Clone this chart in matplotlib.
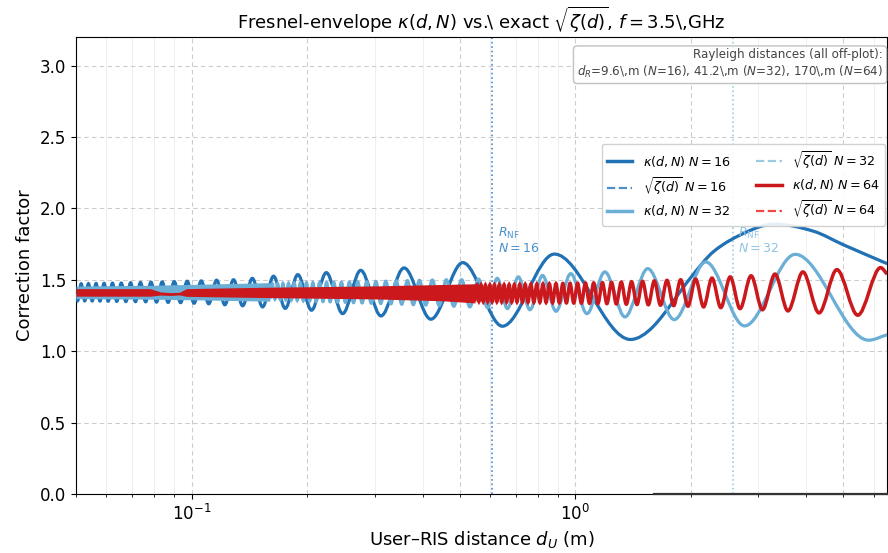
import numpy as np
import matplotlib
matplotlib.use("Agg")
import matplotlib.pyplot as plt
from matplotlib.path import Path
from matplotlib.patches import PathPatch
from matplotlib.lines import Line2D

# ---------------- data ----------------
# positions of extrema are stored as inverse distance 1/d (1/m); d = 1/inv
# N = 16, kappa(d,N)
n16_peak_inv = [0.303, 1.133, 1.963, 2.793, 3.623, 4.453, 5.283, 6.113, 6.943, 7.773,
                8.603, 9.433, 10.263, 11.093, 11.923, 12.753, 13.583, 14.413, 15.243,
                16.073, 16.903, 17.733, 18.563, 19.393]
n16_peak_y = [1.89, 1.68, 1.62, 1.583, 1.566, 1.55, 1.536, 1.525, 1.51, 1.50, 1.497,
              1.492, 1.49, 1.487, 1.485, 1.483, 1.481, 1.479, 1.477, 1.476, 1.475,
              1.474, 1.473, 1.472]
n16_trough_inv = [0.718, 1.548, 2.378, 3.208, 4.038, 4.868, 5.698, 6.528, 7.358, 8.188,
                  9.018, 9.848, 10.678, 11.508, 12.338, 13.168, 13.998, 14.828, 15.658,
                  16.488, 17.318, 18.148, 18.978, 19.808]
n16_trough_y = [1.082, 1.175, 1.224, 1.247, 1.263, 1.287, 1.30, 1.31, 1.318, 1.325,
                1.332, 1.336, 1.34, 1.342, 1.344, 1.346, 1.347, 1.348, 1.349, 1.35,
                1.351, 1.352, 1.352, 1.353]
n16_extra_d = [0.05, 1.6, 2.0, 2.3, 2.8, 4.18, 5.0, 6.5]
n16_extra_y = [1.40, 1.175, 1.515, 1.70, 1.835, 1.84, 1.745, 1.613]

# N = 32, kappa(d,N)
n32_peak_inv = [0.267, 0.457, 0.647, 0.837, 1.027, 1.217, 1.407, 1.597, 1.787, 1.977,
                2.167, 2.357, 2.547, 2.737, 2.927, 3.117, 3.307, 3.497, 3.687, 3.877,
                4.067, 4.257, 4.447, 4.637, 4.827, 5.017, 5.207, 5.397, 5.587, 5.777,
                5.967, 6.157]
n32_peak_y = [1.678, 1.625, 1.578, 1.555, 1.543, 1.53, 1.52, 1.51, 1.505, 1.50, 1.50,
              1.498, 1.496, 1.494, 1.492, 1.49, 1.488, 1.486, 1.485, 1.484, 1.483,
              1.482, 1.481, 1.48, 1.479, 1.478, 1.477, 1.476, 1.475, 1.474, 1.473, 1.472]
n32_trough_inv = [0.172, 0.362, 0.552, 0.742, 0.932, 1.122, 1.312, 1.502, 1.692, 1.882,
                  2.072, 2.262, 2.452, 2.642, 2.832, 3.022, 3.212, 3.402, 3.592, 3.782,
                  3.972, 4.162, 4.352, 4.542, 4.732, 4.922, 5.112, 5.302, 5.492, 5.682,
                  5.872, 6.062, 6.252]
n32_trough_y = [1.077, 1.177, 1.221, 1.24, 1.263, 1.28, 1.29, 1.298, 1.305, 1.31, 1.315,
                1.32, 1.323, 1.326, 1.329, 1.332, 1.334, 1.336, 1.338, 1.34, 1.342,
                1.344, 1.346, 1.348, 1.35, 1.352, 1.354, 1.356, 1.358, 1.36, 1.362,
                1.364, 1.365]
n32_extra_d = [6.5]
n32_extra_y = [1.115]
# unresolved dense band of the N = 32 curve (outer edges)
n32_band_d = [0.05, 0.08, 0.11, 0.16]
n32_band_lo = [1.368, 1.364, 1.358, 1.35]
n32_band_hi = [1.456, 1.462, 1.47, 1.48]

# N = 64, kappa(d,N)
n64_peak_inv = [0.160, 0.208, 0.255, 0.3015, 0.348, 0.3945, 0.440, 0.4855, 0.531,
                0.5765, 0.622, 0.6675, 0.713, 0.7585, 0.804, 0.8495, 0.895, 0.9405,
                0.986, 1.0315, 1.077, 1.1225, 1.168, 1.2135, 1.259, 1.3045, 1.350,
                1.3955, 1.441, 1.4865, 1.532, 1.5775, 1.623, 1.6685, 1.714, 1.7595, 1.805]
n64_peak_y = [1.585, 1.571, 1.555, 1.54, 1.528, 1.52, 1.512, 1.505, 1.50, 1.496, 1.492,
              1.489, 1.486, 1.484, 1.482, 1.48, 1.478, 1.477, 1.476, 1.475, 1.474, 1.473,
              1.472, 1.471, 1.47, 1.469, 1.468, 1.467, 1.466, 1.466, 1.465, 1.465, 1.464,
              1.464, 1.463, 1.463, 1.462]
n64_trough_inv = [0.1835, 0.2315, 0.279, 0.325, 0.3718, 0.4173, 0.4628, 0.5083, 0.5538,
                  0.5993, 0.6448, 0.6903, 0.7358, 0.7813, 0.8268, 0.8723, 0.9178, 0.9633,
                  1.0088, 1.0543, 1.0998, 1.1453, 1.1908, 1.2363, 1.2818, 1.3273, 1.3728,
                  1.4183, 1.4638, 1.5093, 1.5548, 1.6003, 1.6458, 1.6913, 1.7368, 1.7823,
                  1.8278]
n64_trough_y = [1.252, 1.268, 1.282, 1.29, 1.298, 1.305, 1.31, 1.315, 1.319, 1.322, 1.325,
                1.327, 1.329, 1.331, 1.333, 1.334, 1.335, 1.336, 1.337, 1.338, 1.339,
                1.34, 1.341, 1.342, 1.342, 1.343, 1.343, 1.344, 1.344, 1.345, 1.345,
                1.346, 1.346, 1.347, 1.347, 1.348, 1.348]
n64_extra_d = [6.5]
n64_extra_y = [1.54]
# unresolved dense band of the N = 64 curve (outer edges)
n64_band_d = [0.05, 0.078, 0.083, 0.088, 0.093, 0.097, 0.15, 0.3, 0.45, 0.548]
n64_band_lo = [1.385, 1.385, 1.393, 1.39, 1.394, 1.384, 1.376, 1.366, 1.353, 1.338]
n64_band_hi = [1.438, 1.438, 1.415, 1.41, 1.412, 1.438, 1.447, 1.457, 1.467, 1.472]

# near-field radii
rnf_d = [0.607, 2.58]
rnf_labels = ["16", "32"]
# dark segment drawn on the bottom axis line
zero_seg_d = [1.6, 6.5]
zero_seg_y = [0.0, 0.0]

# ---------------- helpers ----------------
C16, C16Z = "#2171b5", "#4a8fcb"
C32, C32Z = "#6baed6", "#9ecae1"
C64, C64Z = "#cb181d", "#ef4a4a"


def merge(pinv, py, tinv, ty, ed, ey):
    x = np.concatenate([1.0 / np.asarray(pinv), 1.0 / np.asarray(tinv), np.asarray(ed)])
    y = np.concatenate([py, ty, ey])
    o = np.argsort(x)
    return x[o], y[o]


def smooth(ax, x, y, **kw):
    """Draw a smooth curve through the read points (cubic Bezier segments)."""
    u = np.log10(x)
    y = np.asarray(y, float)
    n = len(u)
    m = np.zeros(n)
    for i in range(n):
        if i == 0:
            m[i] = (y[1] - y[0]) / (u[1] - u[0])
        elif i == n - 1:
            m[i] = (y[-1] - y[-2]) / (u[-1] - u[-2])
        elif (y[i] - y[i - 1]) * (y[i + 1] - y[i]) <= 0:
            m[i] = 0.0
        else:
            m[i] = (y[i + 1] - y[i - 1]) / (u[i + 1] - u[i - 1])
    verts = [(x[0], y[0])]
    codes = [Path.MOVETO]
    for i in range(n - 1):
        du = u[i + 1] - u[i]
        verts += [(10 ** (u[i] + du / 3), y[i] + m[i] * du / 3),
                  (10 ** (u[i + 1] - du / 3), y[i + 1] - m[i + 1] * du / 3),
                  (x[i + 1], y[i + 1])]
        codes += [Path.CURVE4] * 3
    ax.add_patch(PathPatch(Path(verts, codes), fill=False, **kw))


# ---------------- figure ----------------
fig = plt.figure(figsize=(8.88, 5.53), dpi=100)
ax = fig.add_axes([0.0856, 0.1067, 0.9134, 0.8264])
ax.set_xscale("log")
ax.set_xlim(0.05, 6.5)
ax.set_ylim(0, 3.2)

# grid
for gx in [0.1, 0.2, 0.5, 1, 2, 5]:
    ax.axvline(gx, color="#cccccc", lw=0.8, ls=(0, (4, 3)), zorder=0)
for gx in [0.06, 0.07, 0.08, 0.09, 0.3, 0.4, 0.6, 0.7, 0.8, 0.9, 3, 4, 6]:
    ax.axvline(gx, color="#ececec", lw=0.6, zorder=0)
ax.yaxis.grid(True, color="#cccccc", lw=0.8, ls=(0, (4, 3)))
ax.set_axisbelow(True)

x16, y16 = merge(n16_peak_inv, n16_peak_y, n16_trough_inv, n16_trough_y, n16_extra_d, n16_extra_y)
x32, y32 = merge(n32_peak_inv, n32_peak_y, n32_trough_inv, n32_trough_y, n32_extra_d, n32_extra_y)
x64, y64 = merge(n64_peak_inv, n64_peak_y, n64_trough_inv, n64_trough_y, n64_extra_d, n64_extra_y)

smooth(ax, x16, y16, ec=C16Z, lw=1.5, ls="--", zorder=2)
smooth(ax, x16, y16, ec=C16, lw=2.3, zorder=3)
ax.fill_between(n32_band_d, n32_band_lo, n32_band_hi, color=C32, lw=0, zorder=4)
smooth(ax, x32, y32, ec=C32Z, lw=1.5, ls="--", zorder=4)
smooth(ax, x32, y32, ec=C32, lw=2.3, zorder=4)
ax.fill_between(n64_band_d, n64_band_lo, n64_band_hi, color=C64, lw=0, zorder=5)
smooth(ax, x64, y64, ec=C64Z, lw=1.5, ls="--", zorder=5)
smooth(ax, x64, y64, ec=C64, lw=2.5, zorder=5)

ax.plot(zero_seg_d, zero_seg_y, color="#333333", lw=1.6, clip_on=False, zorder=6)

# near-field markers
for d, c in zip(rnf_d, ["#4a8fcb", "#9ecae1"]):
    ax.axvline(d, color=c, lw=1.2, ls=":", zorder=1)
ax.text(0.63, 1.88, "$R_{\\rm NF}$\n$N=%s$" % rnf_labels[0], color="#4a8fcb", fontsize=9,
        va="top", ha="left", linespacing=1.1)
ax.text(2.66, 1.88, "$R_{\\rm NF}$\n$N=%s$" % rnf_labels[1], color="#8fc2e3", fontsize=9,
        va="top", ha="left", linespacing=1.1)

ax.text(0.995, 0.975,
        "Rayleigh distances (all off-plot):\n$d_R$=9.6\\,m ($N$=16), 41.2\\,m ($N$=32), 170\\,m ($N$=64)",
        transform=ax.transAxes, ha="right", va="top", fontsize=8.6, color="#444444",
        multialignment="right",
        bbox=dict(boxstyle="round,pad=0.3", fc="white", ec="#bbbbbb", alpha=0.9))

handles = [
    Line2D([], [], color=C16, lw=2.5),
    Line2D([], [], color=C16Z, lw=1.6, ls="--"),
    Line2D([], [], color=C32, lw=2.5),
    Line2D([], [], color=C32Z, lw=1.6, ls="--"),
    Line2D([], [], color=C64, lw=2.5),
    Line2D([], [], color=C64Z, lw=1.6, ls="--"),
]
labels = [
    "$\\kappa(d,N)$ $N=16$",
    "$\\sqrt{\\zeta(d)}$ $N=16$",
    "$\\kappa(d,N)$ $N=32$",
    "$\\sqrt{\\zeta(d)}$ $N=32$",
    "$\\kappa(d,N)$ $N=64$",
    "$\\sqrt{\\zeta(d)}$ $N=64$",
]
ax.legend(handles, labels, ncol=2, fontsize=9.2, loc="upper right",
          bbox_to_anchor=(0.998, 0.766), borderaxespad=0, framealpha=0.9)

ax.set_title("Fresnel-envelope $\\kappa(d,N)$ vs.\\ exact $\\sqrt{\\zeta(d)}$, $f=3.5$\\,GHz",
             fontsize=13)
ax.set_xlabel("User\u2013RIS distance $d_U$ (m)", fontsize=13)
ax.set_ylabel("Correction factor", fontsize=13)
ax.tick_params(labelsize=12)

fig.savefig("out.png", dpi=100)
